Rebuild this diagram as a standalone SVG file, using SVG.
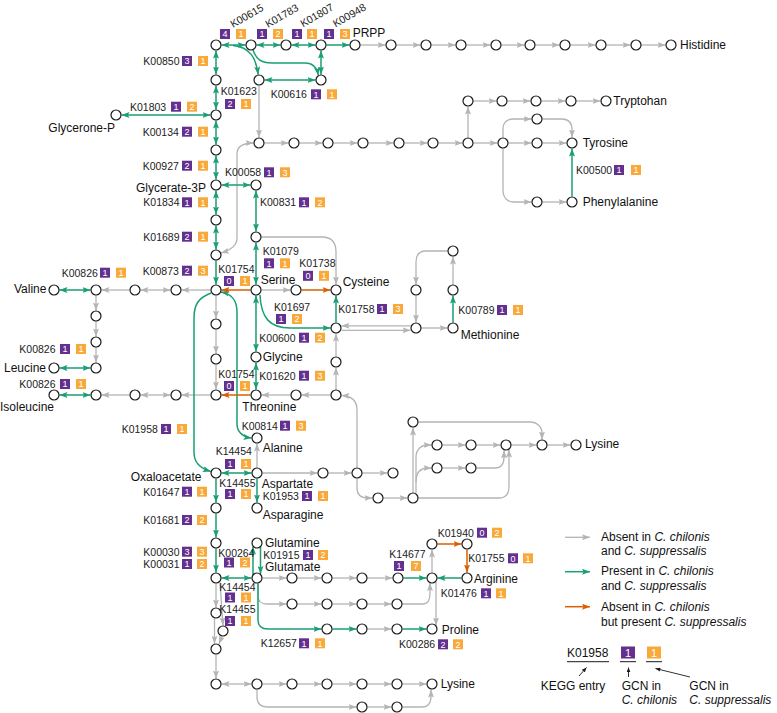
<svg xmlns="http://www.w3.org/2000/svg" width="777" height="713" viewBox="0 0 777 713">
<style>
.n{fill:#fff;stroke:#1a1a1a;stroke-width:1.2}
.g{fill:none;stroke:#b4b4b4;stroke-width:1.3;marker-end:url(#mg)}
.g.d{marker-start:url(#mg)}
.e{fill:none;stroke:#1b9e77;stroke-width:1.5;marker-end:url(#me)}
.e.d{marker-start:url(#me)}
.o{fill:none;stroke:#d95f02;stroke-width:1.5;marker-end:url(#mo)}
.bk{fill:none;stroke:#1a1a1a;stroke-width:0.9;marker-end:url(#mk)}
.k{font:10.5px "Liberation Sans",Arial,sans-serif;fill:#222}
.t{font:12px "Liberation Sans",Arial,sans-serif;fill:#111}
.b{font:9px "Liberation Sans",Arial,sans-serif;fill:#fff;text-anchor:middle}
.bl{font:11px "Liberation Sans",Arial,sans-serif;fill:#fff;text-anchor:middle}
.p{fill:#64308f}
.q{fill:#f8a93a}
.i{font-style:italic}
</style>
<defs>
<marker id="mg" viewBox="0 0 8 6" refX="8" refY="3" markerWidth="8" markerHeight="6" markerUnits="userSpaceOnUse" orient="auto-start-reverse"><path d="M0,0L8,3L0,6L1.6,3Z" fill="#b4b4b4"/></marker>
<marker id="me" viewBox="0 0 8 6" refX="8" refY="3" markerWidth="8" markerHeight="6" markerUnits="userSpaceOnUse" orient="auto-start-reverse"><path d="M0,0L8,3L0,6L1.6,3Z" fill="#1b9e77"/></marker>
<marker id="mo" viewBox="0 0 8 6" refX="8" refY="3" markerWidth="8" markerHeight="6" markerUnits="userSpaceOnUse" orient="auto-start-reverse"><path d="M0,0L8,3L0,6L1.6,3Z" fill="#d95f02"/></marker>
<marker id="mk" viewBox="0 0 6 5" refX="6" refY="2.5" markerWidth="5" markerHeight="4" markerUnits="userSpaceOnUse" orient="auto"><path d="M0,0L6,2.5L0,5Z" fill="#1a1a1a"/></marker>
</defs>
<rect width="777" height="713" fill="#fff"/>

<g id="connectors">
<path class="g" d="M360.5,45H385.5"/><path class="g" d="M396.5,45H420.5"/><path class="g" d="M431.5,45H455.5"/><path class="g" d="M466.5,45H490.5"/><path class="g" d="M501.5,45H524.5"/><path class="g" d="M535.5,45H559.5"/><path class="g" d="M570.5,45H595.5"/><path class="g" d="M606.5,45H630.5"/><path class="g" d="M641.5,45H665.5"/>
<path class="g" d="M259,85.5V137.5"/>
<path class="g d" d="M221,253C231,250 237,246 237,238V154C237,147 242,143 253.5,143"/>
<path class="g" d="M264.5,143H288.5"/><path class="g" d="M299.5,143H322.5"/><path class="g" d="M333.5,143H357.5"/><path class="g" d="M368.5,143H393.5"/><path class="g" d="M404.5,143H427.5"/><path class="g" d="M438.5,143H462.5"/><path class="g" d="M473.5,143H497.5"/><path class="g" d="M508.5,143H531.5"/><path class="g" d="M542.5,143H566.5"/>
<path class="g" d="M468,137.5V106.5"/>
<path class="g" d="M473.5,101H496.5"/><path class="g" d="M507.5,101H530.5"/><path class="g" d="M541.5,101H565.5"/><path class="g" d="M576.5,101H600.5"/>
<path class="g" d="M503,137.5V129C503,122.5 507,119 514,119H531.5"/>
<path class="g" d="M542.5,119H562C568.5,119 572,123 572,130V137.5"/>
<path class="g" d="M503,148.5V190C503,197.5 507,202 514,202H531.5"/>
<path class="g" d="M542.5,202H566.5"/>
<path class="g" d="M261.5,237H322C331,237 336,242 336,252V284.5"/>
<path class="g" d="M261.5,290H290.5"/>
<path class="g" d="M210.5,290H181.5"/>
<path class="g d" d="M170.5,290H140.5"/>
<path class="g" d="M129.5,290H101.5"/>
<path class="g" d="M96,295.5V310.5"/><path class="g" d="M96,321.5V336.5"/><path class="g" d="M96,347.5V362.5"/>
<path class="g" d="M210.5,395H181.5"/>
<path class="g d" d="M170.5,395H140.5"/>
<path class="g" d="M129.5,395H101.5"/>
<path class="g" d="M216,295.5V318.5"/><path class="g" d="M216,329.5V353.5"/><path class="g" d="M216,364.5V389.5"/>
<path class="g" d="M330.5,395H301.5"/><path class="g" d="M290.5,395H261.5"/>
<path class="g" d="M336,389.5V367.5"/><path class="g" d="M336,356.5V333.5"/>
<path class="g" d="M357,467.5V410C357,401 352,396 341.5,395.5"/>
<path class="g" d="M410.5,325.8H341.5"/>
<path class="g" d="M341.5,330.3H410.5"/>
<path class="g" d="M447.5,251H426C419.5,251 416,255 416,262V284.5"/>
<path class="g" d="M416,295.5V322.5"/>
<path class="g" d="M421.5,328H447.5"/>
<path class="g" d="M453,284.5V256.5"/>
<path class="g" d="M257,467.5V443.5"/>
<path class="g" d="M262.5,473H317.5"/><path class="g" d="M328.5,473H351.5"/><path class="g" d="M362.5,473H387.5"/>
<path class="g" d="M357,478.5V488C357,494.5 361,498 368,498H372.5"/>
<path class="g" d="M383.5,498H407.5"/>
<path class="g" d="M413,492.5V427.5"/>
<path class="g" d="M416,493V457C416,449.5 421,445 428,445H431.5"/>
<path class="g" d="M416,482C416,472 421,468 428,468H431.5"/>
<path class="g" d="M418.5,422H530C537,422 542,427 542,433V439.5"/>
<path class="g" d="M442.5,445H465.5"/><path class="g" d="M476.5,445H500.5"/><path class="g" d="M511.5,445H536.5"/><path class="g" d="M547.5,445H570.5"/>
<path class="g" d="M442.5,468H465.5"/>
<path class="g" d="M476.5,468H495C501,468 504,464 504,457V450.3"/>
<path class="g" d="M418.5,498H499C505.5,498 509,494 509,486V449.5"/>
<path class="g" d="M262.5,578H286.5"/><path class="g" d="M297.5,578H321.5"/><path class="g" d="M332.5,578H356.5"/><path class="g" d="M367.5,578H392.5"/>
<path class="g" d="M258,583.5V596C258,601.5 261,604 267,604H286.5"/>
<path class="g" d="M297.5,604H321.5"/><path class="g" d="M332.5,604H356.5"/><path class="g" d="M367.5,604H391.5"/>
<path class="g" d="M402.5,604H423C428,604 430,600 430,593V583"/>
<path class="g" d="M432,572.5V549.5"/>
<path class="g" d="M436,582V625.5"/>
<path class="g" d="M367.5,629H391.5"/>
<path class="g" d="M216,583.5V607.5"/>
<path class="g" d="M220,582.5L223,625.5"/>
<path class="g" d="M214.5,618.5V643.8"/>
<path class="g" d="M222,636.5L219,644"/>
<path class="g" d="M216,654.5V678.5"/>
<path class="g d" d="M221.5,684H251.5"/>
<path class="g" d="M262.5,684H286.5"/><path class="g" d="M297.5,684H321.5"/><path class="g" d="M332.5,684H356.5"/><path class="g" d="M367.5,684H391.5"/><path class="g" d="M402.5,684H426.5"/>
<path class="g" d="M257,689.5V697C257,703.5 261,707 268,707H356.5"/>
<path class="g" d="M367.5,707H391.5"/>
<path class="g" d="M402.5,707H422C428,707 431,703 431,696V689.5"/>

<path class="e d" d="M221.5,45H245.5"/><path class="e d" d="M256.5,45H280.5"/><path class="e d" d="M291.5,45H315.5"/><path class="e" d="M326.5,45H349.5"/>
<path class="e" d="M233,45.5C250,47 256,58 258.2,74.6"/>
<path class="e" d="M253,50C256,59 261,63 272,63H305C313,63 317,68 318.3,75.3"/>
<path class="e d" d="M264.5,80H315.5"/>
<path class="e d" d="M321,50.5V74.5"/>
<path class="e d" d="M216,50.5V74.5"/><path class="e d" d="M216,85.5V109.5"/><path class="e d" d="M216,120.5V144.5"/><path class="e d" d="M216,155.5V179.5"/><path class="e d" d="M216,190.5V214.5"/><path class="e d" d="M216,225.5V249.5"/><path class="e" d="M216,260.5V284.5"/>
<path class="e d" d="M210.5,115H121.5"/>
<path class="e d" d="M221.5,185H250.5"/>
<path class="e d" d="M256,190.5V231.5"/>
<path class="e d" d="M256,242.5V284.5"/>
<path class="e d" d="M256,295.5V351.5"/>
<path class="e d" d="M256,362.5V389.5"/>
<path class="e" d="M260,295C261,318 270,328 290,328H330.5"/>
<path class="e" d="M336,322.5V295.5"/>
<path class="e" d="M211,293C198,298 194,305 194,318V452C194,463 200,468 210.8,471.6"/>
<path class="e d" d="M221,292C232,294 237,300 237,312V424C237,432 243,437 251.5,438"/>
<path class="e" d="M572,196.5V148.5"/>
<path class="e" d="M453,322.5V295.5"/>
<path class="e d" d="M59.5,290H90.5"/><path class="e d" d="M59.5,368H90.5"/><path class="e d" d="M59.5,395H90.5"/>
<path class="e d" d="M221.5,473H251.5"/>
<path class="e" d="M257,478.5V502.5"/>
<path class="e" d="M216,478.5V502.5"/><path class="e" d="M216,513.5V537.5"/><path class="e" d="M216,548.5V572.5"/>
<path class="e d" d="M221.5,578H251.5"/>
<path class="e" d="M253,575V546.5"/>
<path class="e" d="M260.5,546.5V574"/>
<path class="e" d="M258,583.5V620C258,626 261,629 268,629H321.5"/>
<path class="e" d="M332.5,629H356.5"/>
<path class="e" d="M402.5,629H426.5"/>
<path class="e" d="M403.5,578H426.5"/>
<path class="e" d="M461.5,578H437.5"/>

<path class="o" d="M250.5,290H221.5"/>
<path class="o" d="M301.5,290H330.5"/>
<path class="o" d="M250.5,395H221.5"/>
<path class="o" d="M437.5,544H461.5"/>
<path class="o" d="M467,549.5V572.5"/>
</g>

<g id="nodes">
<g id="n216_45"><circle class="n" cx="216" cy="45" r="5"/></g>
<g id="n251_45"><circle class="n" cx="251" cy="45" r="5"/></g>
<g id="n286_45"><circle class="n" cx="286" cy="45" r="5"/></g>
<g id="n321_45"><circle class="n" cx="321" cy="45" r="5"/></g>
<g id="prpp"><circle class="n" cx="355" cy="45" r="5"/><text class="t" x="352.7" y="36.6">PRPP</text></g>
<g id="n391_45"><circle class="n" cx="391" cy="45" r="5"/></g>
<g id="n426_45"><circle class="n" cx="426" cy="45" r="5"/></g>
<g id="n461_45"><circle class="n" cx="461" cy="45" r="5"/></g>
<g id="n496_45"><circle class="n" cx="496" cy="45" r="5"/></g>
<g id="n530_45"><circle class="n" cx="530" cy="45" r="5"/></g>
<g id="n565_45"><circle class="n" cx="565" cy="45" r="5"/></g>
<g id="n601_45"><circle class="n" cx="601" cy="45" r="5"/></g>
<g id="n636_45"><circle class="n" cx="636" cy="45" r="5"/></g>
<g id="histidine"><circle class="n" cx="671" cy="45" r="5"/><text class="t" x="680" y="49.3">Histidine</text></g>
<g id="n259_80"><circle class="n" cx="259" cy="80" r="5"/></g>
<g id="n321_80"><circle class="n" cx="321" cy="80" r="5"/></g>
<g id="n216_80"><circle class="n" cx="216" cy="80" r="5"/></g>
<g id="n216_115"><circle class="n" cx="216" cy="115" r="5"/></g>
<g id="n216_150"><circle class="n" cx="216" cy="150" r="5"/></g>
<g id="glycerate3p"><circle class="n" cx="216" cy="185" r="5"/><text class="t" x="136" y="192">Glycerate-3P</text></g>
<g id="n216_220"><circle class="n" cx="216" cy="220" r="5"/></g>
<g id="n216_255"><circle class="n" cx="216" cy="255" r="5"/></g>
<g id="n216_290"><circle class="n" cx="216" cy="290" r="5"/></g>
<g id="n216_324"><circle class="n" cx="216" cy="324" r="5"/></g>
<g id="n216_359"><circle class="n" cx="216" cy="359" r="5"/></g>
<g id="n216_395"><circle class="n" cx="216" cy="395" r="5"/></g>
<g id="glyceronep"><circle class="n" cx="116" cy="115" r="5"/><text class="t" x="48.3" y="132">Glycerone-P</text></g>
<g id="n256_185"><circle class="n" cx="256" cy="185" r="5"/></g>
<g id="n256_237"><circle class="n" cx="256" cy="237" r="5"/></g>
<g id="serine"><circle class="n" cx="256" cy="290" r="5"/><text class="t" x="260.7" y="284.3">Serine</text></g>
<g id="n296_290"><circle class="n" cx="296" cy="290" r="5"/></g>
<g id="cysteine"><circle class="n" cx="336" cy="290" r="5"/><text class="t" x="342.7" y="286">Cysteine</text></g>
<g id="n336_328"><circle class="n" cx="336" cy="328" r="5"/></g>
<g id="glycine"><circle class="n" cx="256" cy="357" r="5"/><text class="t" x="262.7" y="361">Glycine</text></g>
<g id="threonine"><circle class="n" cx="256" cy="395" r="5"/><text class="t" x="242.3" y="411">Threonine</text></g>
<g id="n296_395"><circle class="n" cx="296" cy="395" r="5"/></g>
<g id="n336_395"><circle class="n" cx="336" cy="395" r="5"/></g>
<g id="n336_362"><circle class="n" cx="336" cy="362" r="5"/></g>
<g id="n259_143"><circle class="n" cx="259" cy="143" r="5"/></g>
<g id="n294_143"><circle class="n" cx="294" cy="143" r="5"/></g>
<g id="n328_143"><circle class="n" cx="328" cy="143" r="5"/></g>
<g id="n363_143"><circle class="n" cx="363" cy="143" r="5"/></g>
<g id="n399_143"><circle class="n" cx="399" cy="143" r="5"/></g>
<g id="n433_143"><circle class="n" cx="433" cy="143" r="5"/></g>
<g id="n468_143"><circle class="n" cx="468" cy="143" r="5"/></g>
<g id="n503_143"><circle class="n" cx="503" cy="143" r="5"/></g>
<g id="n537_143"><circle class="n" cx="537" cy="143" r="5"/></g>
<g id="tyrosine"><circle class="n" cx="572" cy="143" r="5"/><text class="t" x="582.7" y="147">Tyrosine</text></g>
<g id="n468_101"><circle class="n" cx="468" cy="101" r="5"/></g>
<g id="n502_101"><circle class="n" cx="502" cy="101" r="5"/></g>
<g id="n536_101"><circle class="n" cx="536" cy="101" r="5"/></g>
<g id="n571_101"><circle class="n" cx="571" cy="101" r="5"/></g>
<g id="tryptohan"><circle class="n" cx="606" cy="101" r="5"/><text class="t" x="613.3" y="105.3">Tryptohan</text></g>
<g id="n537_119"><circle class="n" cx="537" cy="119" r="5"/></g>
<g id="n537_202"><circle class="n" cx="537" cy="202" r="5"/></g>
<g id="phenylalanine"><circle class="n" cx="572" cy="202" r="5"/><text class="t" x="582.7" y="206">Phenylalanine</text></g>
<g id="n453_251"><circle class="n" cx="453" cy="251" r="5"/></g>
<g id="n416_290"><circle class="n" cx="416" cy="290" r="5"/></g>
<g id="n453_290"><circle class="n" cx="453" cy="290" r="5"/></g>
<g id="n416_328"><circle class="n" cx="416" cy="328" r="5"/></g>
<g id="methionine"><circle class="n" cx="453" cy="328" r="5"/><text class="t" x="460.7" y="338.6">Methionine</text></g>
<g id="valine"><circle class="n" cx="54" cy="290" r="5"/><text class="t" x="14" y="293.3">Valine</text></g>
<g id="n96_290"><circle class="n" cx="96" cy="290" r="5"/></g>
<g id="n135_290"><circle class="n" cx="135" cy="290" r="5"/></g>
<g id="n176_290"><circle class="n" cx="176" cy="290" r="5"/></g>
<g id="n96_316"><circle class="n" cx="96" cy="316" r="5"/></g>
<g id="n96_342"><circle class="n" cx="96" cy="342" r="5"/></g>
<g id="n96_368"><circle class="n" cx="96" cy="368" r="5"/></g>
<g id="leucine"><circle class="n" cx="54" cy="368" r="5"/><text class="t" x="4" y="372">Leucine</text></g>
<g id="isoleucine"><circle class="n" cx="54" cy="395" r="5"/><text class="t" x="0" y="411">Isoleucine</text></g>
<g id="n96_395"><circle class="n" cx="96" cy="395" r="5"/></g>
<g id="n135_395"><circle class="n" cx="135" cy="395" r="5"/></g>
<g id="n176_395"><circle class="n" cx="176" cy="395" r="5"/></g>
<g id="alanine"><circle class="n" cx="257" cy="438" r="5"/><text class="t" x="262.7" y="452">Alanine</text></g>
<g id="oxaloacetate"><circle class="n" cx="216" cy="473" r="5"/><text class="t" x="130.7" y="481">Oxaloacetate</text></g>
<g id="aspartate"><circle class="n" cx="257" cy="473" r="5"/><text class="t" x="261.7" y="488.3">Aspartate</text></g>
<g id="n323_473"><circle class="n" cx="323" cy="473" r="5"/></g>
<g id="n357_473"><circle class="n" cx="357" cy="473" r="5"/></g>
<g id="n393_473"><circle class="n" cx="393" cy="473" r="5"/></g>
<g id="n378_498"><circle class="n" cx="378" cy="498" r="5"/></g>
<g id="n413_498"><circle class="n" cx="413" cy="498" r="5"/></g>
<g id="n413_422"><circle class="n" cx="413" cy="422" r="5"/></g>
<g id="n437_445"><circle class="n" cx="437" cy="445" r="5"/></g>
<g id="n471_445"><circle class="n" cx="471" cy="445" r="5"/></g>
<g id="n506_445"><circle class="n" cx="506" cy="445" r="5"/></g>
<g id="n542_445"><circle class="n" cx="542" cy="445" r="5"/></g>
<g id="lysine1"><circle class="n" cx="576" cy="445" r="5"/><text class="t" x="585" y="447.6">Lysine</text></g>
<g id="n437_468"><circle class="n" cx="437" cy="468" r="5"/></g>
<g id="n471_468"><circle class="n" cx="471" cy="468" r="5"/></g>
<g id="n216_508"><circle class="n" cx="216" cy="508" r="5"/></g>
<g id="asparagine"><circle class="n" cx="257" cy="508" r="5"/><text class="t" x="262.7" y="519.3">Asparagine</text></g>
<g id="n216_543"><circle class="n" cx="216" cy="543" r="5"/></g>
<g id="glutamine"><circle class="n" cx="257" cy="543" r="5"/><text class="t" x="265" y="547">Glutamine</text></g>
<g id="n216_578"><circle class="n" cx="216" cy="578" r="5"/></g>
<g id="glutamate"><circle class="n" cx="257" cy="578" r="5"/><text class="t" x="265" y="571">Glutamate</text></g>
<g id="n292_578"><circle class="n" cx="292" cy="578" r="5"/></g>
<g id="n327_578"><circle class="n" cx="327" cy="578" r="5"/></g>
<g id="n362_578"><circle class="n" cx="362" cy="578" r="5"/></g>
<g id="n398_578"><circle class="n" cx="398" cy="578" r="5"/></g>
<g id="n432_578"><circle class="n" cx="432" cy="578" r="5"/></g>
<g id="arginine"><circle class="n" cx="467" cy="578" r="5"/><text class="t" x="474" y="582.6">Arginine</text></g>
<g id="n432_544"><circle class="n" cx="432" cy="544" r="5"/></g>
<g id="n467_544"><circle class="n" cx="467" cy="544" r="5"/></g>
<g id="n292_604"><circle class="n" cx="292" cy="604" r="5"/></g>
<g id="n327_604"><circle class="n" cx="327" cy="604" r="5"/></g>
<g id="n362_604"><circle class="n" cx="362" cy="604" r="5"/></g>
<g id="n397_604"><circle class="n" cx="397" cy="604" r="5"/></g>
<g id="n327_629"><circle class="n" cx="327" cy="629" r="5"/></g>
<g id="n362_629"><circle class="n" cx="362" cy="629" r="5"/></g>
<g id="n397_629"><circle class="n" cx="397" cy="629" r="5"/></g>
<g id="proline"><circle class="n" cx="432" cy="629" r="5"/><text class="t" x="441.7" y="633.6">Proline</text></g>
<g id="n216_613"><circle class="n" cx="216" cy="613" r="5"/></g>
<g id="n223_631"><circle class="n" cx="223" cy="631" r="5"/></g>
<g id="n216_649"><circle class="n" cx="216" cy="649" r="5"/></g>
<g id="n216_684"><circle class="n" cx="216" cy="684" r="5"/></g>
<g id="n257_684"><circle class="n" cx="257" cy="684" r="5"/></g>
<g id="n292_684"><circle class="n" cx="292" cy="684" r="5"/></g>
<g id="n327_684"><circle class="n" cx="327" cy="684" r="5"/></g>
<g id="n362_684"><circle class="n" cx="362" cy="684" r="5"/></g>
<g id="n397_684"><circle class="n" cx="397" cy="684" r="5"/></g>
<g id="lysine2"><circle class="n" cx="432" cy="684" r="5"/><text class="t" x="440.7" y="688.3">Lysine</text></g>
<g id="n362_707"><circle class="n" cx="362" cy="707" r="5"/></g>
<g id="n397_707"><circle class="n" cx="397" cy="707" r="5"/></g>
</g>

<g id="enzyme-labels">
<text class="k" transform="translate(233,28) rotate(-30)">K00615</text>
<text class="k" transform="translate(268,28) rotate(-30)">K01783</text>
<text class="k" transform="translate(303,27.5) rotate(-30)">K01807</text>
<text class="k" transform="translate(335.5,27.5) rotate(-30)">K00948</text>
<rect class="p" x="220" y="29" width="10" height="10"/><text class="b" x="225" y="37.2">4</text><rect class="q" x="236" y="29" width="10" height="10"/><text class="b" x="241" y="37.2">1</text>
<rect class="p" x="257" y="29" width="10" height="10"/><text class="b" x="262" y="37.2">1</text><rect class="q" x="273" y="29" width="10" height="10"/><text class="b" x="278" y="37.2">2</text>
<rect class="p" x="292" y="29" width="10" height="10"/><text class="b" x="297" y="37.2">1</text><rect class="q" x="307" y="29" width="10" height="10"/><text class="b" x="312" y="37.2">1</text>
<rect class="p" x="324" y="29" width="10" height="10"/><text class="b" x="329" y="37.2">1</text><rect class="q" x="340" y="29" width="10" height="10"/><text class="b" x="345" y="37.2">3</text>

<text class="k" x="143.3" y="64.8">K00850</text><rect class="p" x="182" y="56" width="10" height="10"/><text class="b" x="187" y="64.2">3</text><rect class="q" x="198" y="56" width="10" height="10"/><text class="b" x="203" y="64.2">1</text>
<text class="k" x="130" y="110.5">K01803</text><rect class="p" x="171" y="101.7" width="10" height="10"/><text class="b" x="176" y="109.9">1</text><rect class="q" x="187" y="101.7" width="10" height="10"/><text class="b" x="192" y="109.9">2</text>
<text class="k" x="142.7" y="135.5">K00134</text><rect class="p" x="182" y="126.7" width="10" height="10"/><text class="b" x="187" y="134.9">2</text><rect class="q" x="198" y="126.7" width="10" height="10"/><text class="b" x="203" y="134.9">1</text>
<text class="k" x="142.7" y="169.5">K00927</text><rect class="p" x="182" y="160.7" width="10" height="10"/><text class="b" x="187" y="168.9">2</text><rect class="q" x="198" y="160.7" width="10" height="10"/><text class="b" x="203" y="168.9">1</text>
<text class="k" x="143.3" y="206.1">K01834</text><rect class="p" x="182" y="197.3" width="10" height="10"/><text class="b" x="187" y="205.5">1</text><rect class="q" x="198" y="197.3" width="10" height="10"/><text class="b" x="203" y="205.5">1</text>
<text class="k" x="143.3" y="240.5">K01689</text><rect class="p" x="182" y="231.7" width="10" height="10"/><text class="b" x="187" y="239.9">2</text><rect class="q" x="198" y="231.7" width="10" height="10"/><text class="b" x="203" y="239.9">1</text>
<text class="k" x="142.7" y="274.5">K00873</text><rect class="p" x="182" y="265.7" width="10" height="10"/><text class="b" x="187" y="273.9">2</text><rect class="q" x="198" y="265.7" width="10" height="10"/><text class="b" x="203" y="273.9">3</text>
<text class="k" x="220.7" y="94.8">K01623</text><rect class="p" x="225" y="99" width="10" height="10"/><text class="b" x="230" y="107.2">2</text><rect class="q" x="241" y="99" width="10" height="10"/><text class="b" x="246" y="107.2">1</text>
<text class="k" x="270.7" y="98.1">K00616</text><rect class="p" x="311" y="89.3" width="10" height="10"/><text class="b" x="316" y="97.5">1</text><rect class="q" x="327" y="89.3" width="10" height="10"/><text class="b" x="332" y="97.5">1</text>
<text class="k" x="225" y="176.1">K00058</text><rect class="p" x="264" y="167.3" width="10" height="10"/><text class="b" x="269" y="175.5">1</text><rect class="q" x="280" y="167.3" width="10" height="10"/><text class="b" x="285" y="175.5">3</text>
<text class="k" x="260" y="206.1">K00831</text><rect class="p" x="299" y="197.3" width="10" height="10"/><text class="b" x="304" y="205.5">1</text><rect class="q" x="315" y="197.3" width="10" height="10"/><text class="b" x="320" y="205.5">2</text>
<text class="k" x="576" y="173.8">K00500</text><rect class="p" x="614" y="165" width="10" height="10"/><text class="b" x="619" y="173.2">1</text><rect class="q" x="631" y="165" width="10" height="10"/><text class="b" x="636" y="173.2">1</text>
<text class="k" x="61.7" y="276.5">K00826</text><rect class="p" x="100" y="267.7" width="10" height="10"/><text class="b" x="105" y="275.9">1</text><rect class="q" x="116" y="267.7" width="10" height="10"/><text class="b" x="121" y="275.9">1</text>
<text class="k" x="19.3" y="352.8">K00826</text><rect class="p" x="60" y="344" width="10" height="10"/><text class="b" x="65" y="352.2">1</text><rect class="q" x="76" y="344" width="10" height="10"/><text class="b" x="81" y="352.2">1</text>
<text class="k" x="19.3" y="387.8">K00826</text><rect class="p" x="60" y="379" width="10" height="10"/><text class="b" x="65" y="387.2">1</text><rect class="q" x="76" y="379" width="10" height="10"/><text class="b" x="81" y="387.2">1</text>
<text class="k" x="121.7" y="432.8">K01958</text><rect class="p" x="161" y="424" width="10" height="10"/><text class="b" x="166" y="432.2">1</text><rect class="q" x="177" y="424" width="10" height="10"/><text class="b" x="182" y="432.2">1</text>
<text class="k" x="262.7" y="254.8">K01079</text><rect class="p" x="264" y="258.3" width="10" height="10"/><text class="b" x="269" y="266.5">1</text><rect class="q" x="280" y="258.3" width="10" height="10"/><text class="b" x="285" y="266.5">1</text>
<text class="k" x="299.3" y="267.1">K01738</text><rect class="p" x="303" y="270.8" width="10" height="10"/><text class="b" x="308" y="279">0</text><rect class="q" x="319" y="270.8" width="10" height="10"/><text class="b" x="324" y="279">1</text>
<text class="k" x="218.3" y="272.8">K01754</text><rect class="p" x="224" y="276" width="10" height="10"/><text class="b" x="229" y="284.2">0</text><rect class="q" x="240" y="276" width="10" height="10"/><text class="b" x="245" y="284.2">1</text>
<text class="k" x="274" y="310.5">K01697</text><rect class="p" x="276" y="314" width="10" height="10"/><text class="b" x="281" y="322.2">1</text><rect class="q" x="292" y="314" width="10" height="10"/><text class="b" x="297" y="322.2">2</text>
<text class="k" x="338.3" y="312.8">K01758</text><rect class="p" x="377" y="304" width="10" height="10"/><text class="b" x="382" y="312.2">1</text><rect class="q" x="393" y="304" width="10" height="10"/><text class="b" x="398" y="312.2">3</text>
<text class="k" x="259.3" y="341.5">K00600</text><rect class="p" x="299" y="332.7" width="10" height="10"/><text class="b" x="304" y="340.9">1</text><rect class="q" x="315" y="332.7" width="10" height="10"/><text class="b" x="320" y="340.9">2</text>
<text class="k" x="218.3" y="377.8">K01754</text><rect class="p" x="224" y="381" width="10" height="10"/><text class="b" x="229" y="389.2">0</text><rect class="q" x="240" y="381" width="10" height="10"/><text class="b" x="245" y="389.2">1</text>
<text class="k" x="259.3" y="379.5">K01620</text><rect class="p" x="299" y="370.7" width="10" height="10"/><text class="b" x="304" y="378.9">1</text><rect class="q" x="315" y="370.7" width="10" height="10"/><text class="b" x="320" y="378.9">3</text>
<text class="k" x="241.7" y="429.5">K00814</text><rect class="p" x="280" y="420.7" width="10" height="10"/><text class="b" x="285" y="428.9">1</text><rect class="q" x="296" y="420.7" width="10" height="10"/><text class="b" x="301" y="428.9">3</text>
<text class="k" x="458.3" y="313.8">K00789</text><rect class="p" x="497" y="305" width="10" height="10"/><text class="b" x="502" y="313.2">1</text><rect class="q" x="513" y="305" width="10" height="10"/><text class="b" x="518" y="313.2">1</text>
<text class="k" x="215.7" y="454.8">K14454</text><rect class="p" x="225" y="459" width="10" height="10"/><text class="b" x="230" y="467.2">1</text><rect class="q" x="241" y="459" width="10" height="10"/><text class="b" x="246" y="467.2">1</text>
<text class="k" x="219.3" y="486.5">K14455</text><rect class="p" x="225" y="489" width="10" height="10"/><text class="b" x="230" y="497.2">1</text><rect class="q" x="241" y="489" width="10" height="10"/><text class="b" x="246" y="497.2">1</text>
<text class="k" x="143.3" y="495.5">K01647</text><rect class="p" x="182" y="486.7" width="10" height="10"/><text class="b" x="187" y="494.9">1</text><rect class="q" x="197" y="486.7" width="10" height="10"/><text class="b" x="202" y="494.9">1</text>
<text class="k" x="143.3" y="523.8">K01681</text><rect class="p" x="182" y="515" width="10" height="10"/><text class="b" x="187" y="523.2">2</text><rect class="q" x="197" y="515" width="10" height="10"/><text class="b" x="202" y="523.2">2</text>
<text class="k" x="143.3" y="555.5">K00030</text><rect class="p" x="182" y="546.7" width="10" height="10"/><text class="b" x="187" y="554.9">3</text><rect class="q" x="197" y="546.7" width="10" height="10"/><text class="b" x="202" y="554.9">3</text>
<text class="k" x="143.3" y="567.8">K00031</text><rect class="p" x="182" y="559" width="10" height="10"/><text class="b" x="187" y="567.2">1</text><rect class="q" x="197" y="559" width="10" height="10"/><text class="b" x="202" y="567.2">2</text>
<text class="k" x="262.7" y="499.8">K01953</text><rect class="p" x="302" y="491" width="10" height="10"/><text class="b" x="307" y="499.2">1</text><rect class="q" x="318" y="491" width="10" height="10"/><text class="b" x="323" y="499.2">1</text>
<text class="k" x="218.3" y="556.5">K00264</text><rect class="p" x="224" y="557.5" width="10" height="10"/><text class="b" x="229" y="565.7">1</text><rect class="q" x="240" y="557.5" width="10" height="10"/><text class="b" x="245" y="565.7">2</text>
<text class="k" x="263.3" y="558.8">K01915</text><rect class="p" x="303" y="550" width="10" height="10"/><text class="b" x="308" y="558.2">1</text><rect class="q" x="318" y="550" width="10" height="10"/><text class="b" x="323" y="558.2">2</text>
<text class="k" x="219.3" y="590.5">K14454</text><rect class="p" x="225" y="592.5" width="10" height="10"/><text class="b" x="230" y="600.7">1</text><rect class="q" x="241" y="592.5" width="10" height="10"/><text class="b" x="246" y="600.7">1</text>
<text class="k" x="219.3" y="612.8">K14455</text><rect class="p" x="225" y="616" width="10" height="10"/><text class="b" x="230" y="624.2">1</text><rect class="q" x="241" y="616" width="10" height="10"/><text class="b" x="246" y="624.2">1</text>
<text class="k" x="260.7" y="647.1">K12657</text><rect class="p" x="299" y="638.3" width="10" height="10"/><text class="b" x="304" y="646.5">1</text><rect class="q" x="315" y="638.3" width="10" height="10"/><text class="b" x="320" y="646.5">1</text>
<text class="k" x="437.7" y="536.5">K01940</text><rect class="p" x="477" y="527.7" width="10" height="10"/><text class="b" x="482" y="535.9">0</text><rect class="q" x="492" y="527.7" width="10" height="10"/><text class="b" x="497" y="535.9">2</text>
<text class="k" x="389.3" y="558.1">K14677</text><rect class="p" x="394" y="561" width="10" height="10"/><text class="b" x="399" y="569.2">1</text><rect class="q" x="411" y="561" width="10" height="10"/><text class="b" x="416" y="569.2">7</text>
<text class="k" x="468.3" y="562.1">K01755</text><rect class="p" x="508" y="553.3" width="10" height="10"/><text class="b" x="513" y="561.5">0</text><rect class="q" x="523" y="553.3" width="10" height="10"/><text class="b" x="528" y="561.5">1</text>
<text class="k" x="440.7" y="597.1">K01476</text><rect class="p" x="481" y="588.3" width="10" height="10"/><text class="b" x="486" y="596.5">1</text><rect class="q" x="496" y="588.3" width="10" height="10"/><text class="b" x="501" y="596.5">1</text>
<text class="k" x="399" y="648.1">K00286</text><rect class="p" x="438" y="639.3" width="10" height="10"/><text class="b" x="443" y="647.5">2</text><rect class="q" x="453" y="639.3" width="10" height="10"/><text class="b" x="458" y="647.5">2</text>
</g>

<g id="legend">
<path class="g" d="M565,537.3H590"/>
<path class="e" d="M565,571.7H590"/>
<path class="o" d="M565,606.7H590"/>
<text class="t" x="601" y="541"><tspan>Absent in </tspan><tspan class="i">C. chilonis</tspan></text>
<text class="t" x="601" y="555.3"><tspan>and </tspan><tspan class="i">C. suppressalis</tspan></text>
<text class="t" x="601" y="575"><tspan>Present in </tspan><tspan class="i">C. chilonis</tspan></text>
<text class="t" x="601" y="590"><tspan>and </tspan><tspan class="i">C. suppressalis</tspan></text>
<text class="t" x="601" y="611"><tspan>Absent in </tspan><tspan class="i">C. chilonis</tspan></text>
<text class="t" x="601" y="626"><tspan>but present </tspan><tspan class="i">C. suppressalis</tspan></text>
<text class="t" x="567" y="656.6">K01958</text>
<rect class="p" x="621" y="646.5" width="14" height="12"/><text class="bl" x="628" y="656.5">1</text>
<rect class="q" x="647" y="646.5" width="14" height="12"/><text class="bl" x="654" y="656.5">1</text>
<path d="M567,661.7H609M620,661.7H636M646,661.7H662" stroke="#1a1a1a" stroke-width="1"/>
<path class="bk" d="M579,676L586.5,667.5"/>
<path class="bk" d="M628.5,677V667.5"/>
<path class="bk" d="M690,677L655.5,668.5"/>
<text class="t" x="573" y="689.6" text-anchor="middle">KEGG entry</text>
<text class="t" x="621.7" y="689.6">GCN in</text>
<text class="t i" x="621.7" y="704.3">C. chilonis</text>
<text class="t" x="689.3" y="689.6">GCN in</text>
<text class="t i" x="689.3" y="704.3">C. suppressalis</text>
</g>
</svg>
